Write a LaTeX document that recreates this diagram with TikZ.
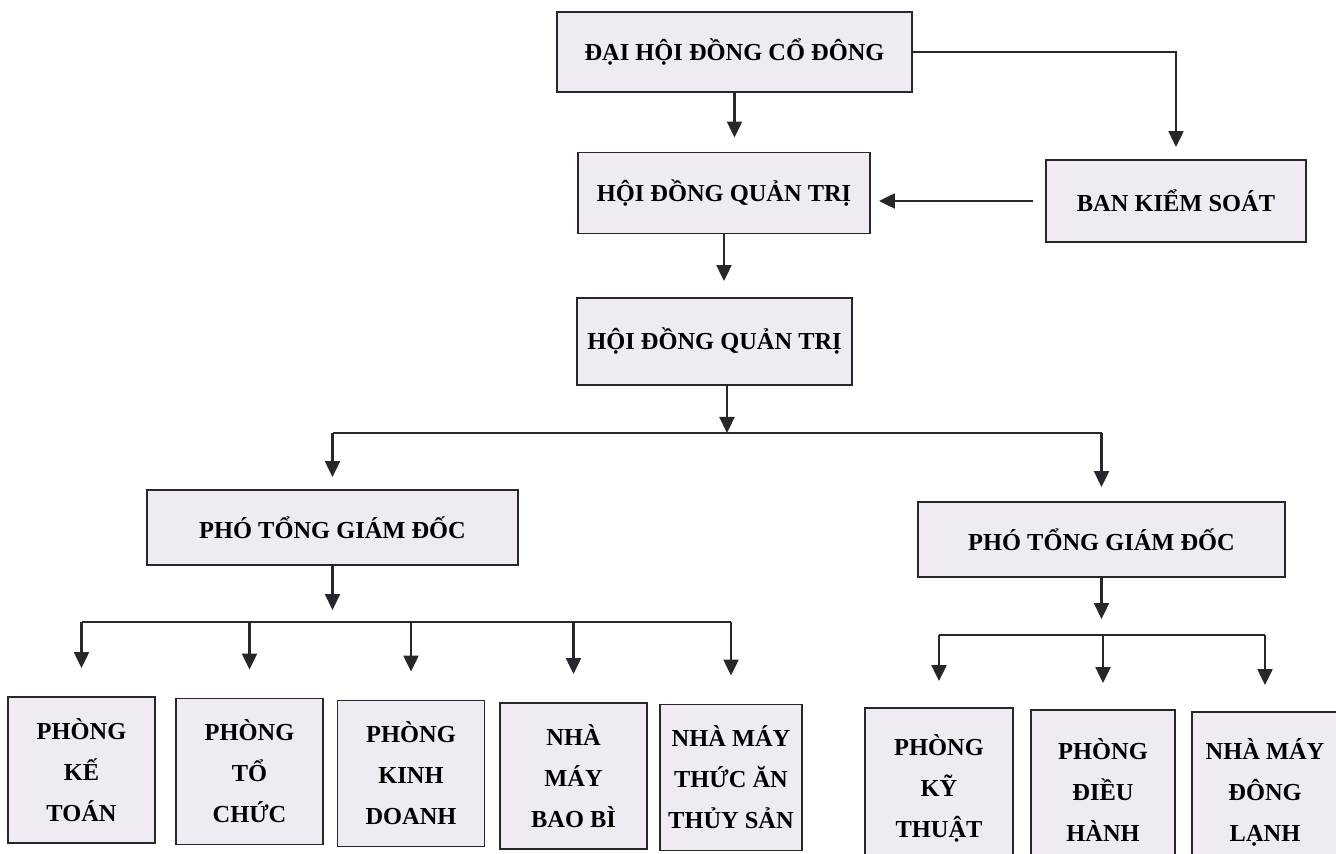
\documentclass[tikz,border=0pt]{standalone}
\usepackage{fontspec}
\setmainfont{Liberation Serif}
\usetikzlibrary{arrows.meta}

\definecolor{boxfill}{RGB}{240,234,243}
\definecolor{linegray}{RGB}{40,40,44}

\tikzset{
  unit/.style={draw=linegray, line width=1.1pt, fill=boxfill, inner sep=0pt,
    align=center, font=\fontsize{13.9}{23.3}\selectfont\bfseries},
  dept/.style={unit, minimum width=2.94cm, minimum height=2.92cm},
  link/.style={draw=linegray, line width=1.3pt},
  arr/.style={link, -{Triangle[length=0.32cm,width=0.3cm]}},
}

\begin{document}
\begin{tikzpicture}[x=0.02cm, y=-0.02cm]
  \useasboundingbox (0,0) rectangle (1336,854);
  \clip (0,0) rectangle (1336,854);

  % top levels
  \node[unit, minimum width=7.1cm, minimum height=1.6cm] (dhd) at (734.5,52) {ĐẠI HỘI ĐỒNG CỔ ĐÔNG};
  \node[unit, minimum width=5.84cm, minimum height=1.62cm] (hdqt) at (724,193) {HỘI ĐỒNG QUẢN TRỊ};
  \node[unit, minimum width=5.2cm, minimum height=1.64cm] (bks) at (1176,201) {BAN KIỂM SOÁT};
  \node[unit, minimum width=5.5cm, minimum height=1.74cm] (hdqtb) at (714.5,341.5) {HỘI ĐỒNG QUẢN TRỊ};

  % deputies
  \node[unit, minimum width=7.42cm, minimum height=1.5cm] (pgdl) at (332.5,527.5) {PHÓ TỔNG GIÁM ĐỐC};
  \node[unit, minimum width=7.34cm, minimum height=1.5cm] (pgdr) at (1101.5,539.5) {PHÓ TỔNG GIÁM ĐỐC};

  % departments, left
  \node[dept] (ketoan) at (81.5,770) {PHÒNG\\KẾ\\TOÁN};
  \node[dept] (tochuc) at (249.5,771.5) {PHÒNG\\TỔ\\CHỨC};
  \node[dept] (kinhdoanh) at (411,773.5) {PHÒNG\\KINH\\DOANH};
  \node[dept] (baobi) at (573.5,776) {NHÀ\\MÁY\\BAO BÌ};
  \node[dept, minimum width=2.84cm] (thucan) at (731,777.5) {NHÀ MÁY\\THỨC ĂN\\THỦY SẢN};

  % departments, right
  \node[dept, minimum width=2.96cm, minimum height=3.2cm] (kythuat) at (939,788) {PHÒNG\\KỸ\\THUẬT};
  \node[dept, minimum width=2.88cm, minimum height=3.2cm] (dieuhanh) at (1103,790) {PHÒNG\\ĐIỀU\\HÀNH};
  \node[dept, minimum width=2.92cm, minimum height=3.2cm] (donglanh) at (1265,792) {NHÀ MÁY\\ĐÔNG\\LẠNH};

  % connectors
  \draw[arr, shorten >=0.24cm] (dhd.east) -| (bks.north);
  \draw[arr, shorten >=0.28cm] (dhd.south) -- (dhd.south |- hdqt.north);
  \draw[arr, shorten <=0.24cm, shorten >=0.16cm] (bks.west) -- (hdqt.east |- bks.west);
  \draw[arr, shorten >=0.32cm] (hdqt.south) -- (hdqt.south |- hdqtb.north);

  \coordinate (forka) at (727,433);
  \draw[arr] (hdqtb.south -| forka) -- (forka);
  \draw[link] (forka -| pgdl) -- (forka -| pgdr);
  \draw[arr, shorten >=0.24cm] (forka -| pgdl) -- (pgdl.north);
  \draw[arr, shorten >=0.28cm] (forka -| pgdr) -- (pgdr.north);

  \coordinate (forkb) at (332,622);
  \draw[arr, shorten >=0.24cm] (pgdl.south) -- (pgdl.south |- forkb);
  \draw[link] (forkb -| ketoan) -- (forkb -| thucan);
  \foreach \d in {ketoan, tochuc, kinhdoanh, baobi, thucan}
    \draw[arr, shorten >=0.56cm] (forkb -| \d) -- (\d.north);

  \coordinate (forkc) at (1100,635);
  \draw[arr, shorten >=0.32cm] (pgdr.south) -- (pgdr.south |- forkc);
  \draw[link] (forkc -| kythuat) -- (forkc -| donglanh);
  \foreach \d in {kythuat, dieuhanh, donglanh}
    \draw[arr, shorten >=0.52cm] (forkc -| \d) -- (\d.north);
\end{tikzpicture}
\end{document}
